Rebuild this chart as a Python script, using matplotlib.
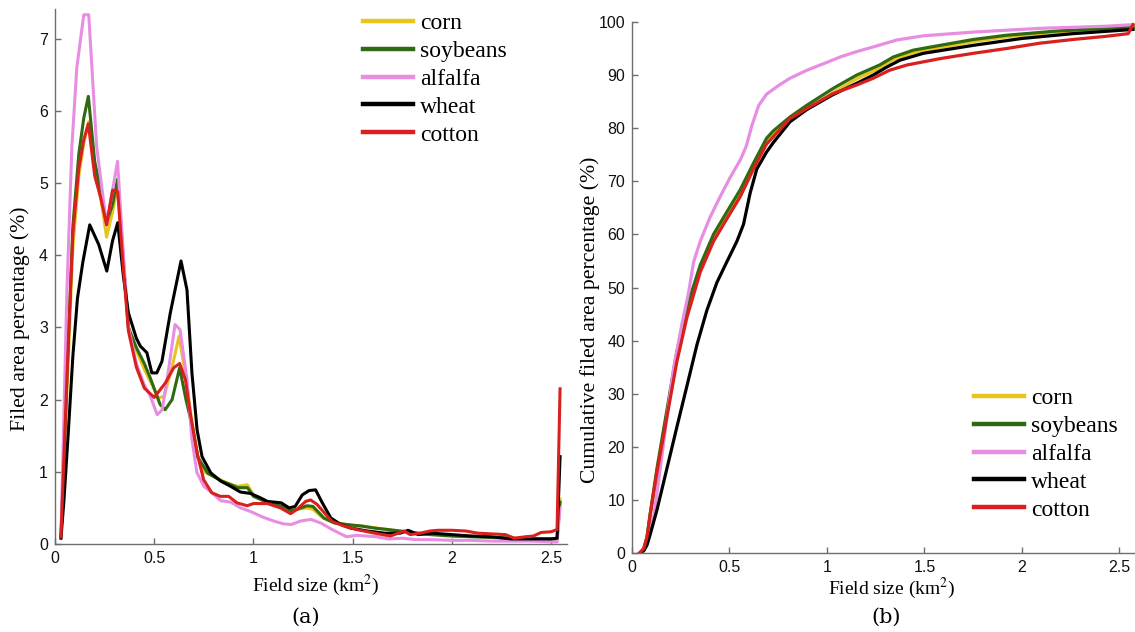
import matplotlib
matplotlib.use("Agg")
import matplotlib.pyplot as plt

# ---------------- data ----------------
crops = ["corn", "soybeans", "alfalfa", "wheat", "cotton"]
colors = ["#E8C41C", "#2F6A12", "#E88EE2", "#000000", "#D8201E"]

# (a) field area percentage
corn_x = [0.03, 0.06, 0.09, 0.12, 0.145, 0.17, 0.2, 0.23, 0.26, 0.29, 0.315, 0.345, 0.37, 0.41, 0.45, 0.49, 0.52,
          0.55, 0.59, 0.625, 0.66, 0.69, 0.72, 0.75, 0.79, 0.84, 0.88, 0.92, 0.97, 1.0, 1.05, 1.1, 1.15, 1.19,
          1.22, 1.27, 1.3, 1.35, 1.4, 1.45, 1.5, 1.55, 1.6, 1.65, 1.7, 1.75, 1.8, 1.85, 1.9, 1.95, 2.0, 2.05,
          2.1, 2.15, 2.2, 2.25, 2.3, 2.35, 2.4, 2.45, 2.5, 2.53, 2.545]
corn_y = [0.1, 2.1, 4.1, 5.1, 5.55, 5.85, 5.2, 4.8, 4.25, 4.6, 4.95, 3.9, 3.0, 2.68, 2.42, 2.2, 2.02,
          2.05, 2.45, 2.88, 2.3, 1.7, 1.2, 1.0, 0.95, 0.88, 0.83, 0.8, 0.82, 0.68, 0.6, 0.56, 0.52, 0.46,
          0.48, 0.5, 0.48, 0.36, 0.3, 0.28, 0.25, 0.25, 0.23, 0.21, 0.19, 0.17, 0.16, 0.14, 0.14, 0.13, 0.12, 0.11,
          0.11, 0.1, 0.09, 0.09, 0.08, 0.08, 0.07, 0.07, 0.07, 0.07, 0.62]

soy_x = [0.03, 0.06, 0.09, 0.12, 0.145, 0.168, 0.2, 0.23, 0.26, 0.29, 0.315, 0.345, 0.37, 0.41, 0.45, 0.48, 0.53,
         0.555, 0.59, 0.628, 0.66, 0.69, 0.72, 0.77, 0.84, 0.88, 0.92, 0.97, 1.0, 1.05, 1.09, 1.15, 1.19, 1.22,
         1.27, 1.3, 1.355, 1.41, 1.47, 1.54, 1.61, 1.68, 1.74, 1.83, 1.89, 2.0, 2.1, 2.2, 2.3, 2.4, 2.5, 2.53, 2.545]
soy_y = [0.1, 2.3, 4.4, 5.4, 5.9, 6.2, 5.3, 4.9, 4.45, 4.7, 5.05, 3.9, 3.0, 2.72, 2.5, 2.3, 1.93,
         1.86, 2.0, 2.44, 2.0, 1.65, 1.2, 0.98, 0.87, 0.83, 0.78, 0.78, 0.66, 0.6, 0.55, 0.52, 0.46, 0.48,
         0.53, 0.52, 0.36, 0.29, 0.27, 0.25, 0.22, 0.2, 0.18, 0.15, 0.13, 0.11, 0.1, 0.09, 0.08, 0.07, 0.07, 0.07, 0.58]

alf_x = [0.03, 0.06, 0.085, 0.11, 0.145, 0.17, 0.21, 0.26, 0.315, 0.345, 0.37, 0.41, 0.45, 0.48, 0.515, 0.54,
         0.565, 0.605, 0.63, 0.665, 0.69, 0.715, 0.75, 0.79, 0.835, 0.885, 0.935, 0.985, 1.05, 1.1, 1.15, 1.19,
         1.24, 1.29, 1.34, 1.39, 1.44, 1.47, 1.52, 1.57, 1.62, 1.68, 1.75, 1.82, 1.9, 2.0, 2.1, 2.2, 2.3, 2.4,
         2.5, 2.53, 2.545]
alf_y = [0.1, 3.5, 5.5, 6.6, 7.33, 7.33, 5.5, 4.42, 5.3, 4.0, 3.0, 2.5, 2.2, 2.05, 1.79, 1.86,
         2.28, 3.04, 2.97, 2.28, 1.45, 0.99, 0.8, 0.71, 0.6, 0.58, 0.5, 0.45, 0.37, 0.32, 0.28, 0.27,
         0.32, 0.34, 0.29, 0.21, 0.14, 0.1, 0.12, 0.11, 0.1, 0.07, 0.08, 0.06, 0.06, 0.05, 0.05, 0.04, 0.04, 0.04,
         0.03, 0.03, 0.5]

wheat_x = [0.03, 0.045, 0.066, 0.09, 0.113, 0.14, 0.175, 0.22, 0.261, 0.29, 0.316, 0.345, 0.37, 0.41, 0.43,
           0.463, 0.488, 0.513, 0.539, 0.581, 0.635, 0.665, 0.69, 0.716, 0.741, 0.785, 0.836, 0.884, 0.934,
           0.985, 1.035, 1.07, 1.14, 1.18, 1.21, 1.246, 1.28, 1.313, 1.347, 1.39, 1.44, 1.49, 1.574, 1.66,
           1.74, 1.78, 1.83, 1.9, 2.0, 2.1, 2.2, 2.3, 2.42, 2.5, 2.53, 2.545]
wheat_y = [0.08, 0.6, 1.5, 2.6, 3.4, 3.9, 4.42, 4.15, 3.78, 4.2, 4.45, 3.7, 3.2, 2.85, 2.74,
           2.65, 2.37, 2.37, 2.53, 3.2, 3.92, 3.52, 2.37, 1.58, 1.21, 0.985, 0.87, 0.8, 0.72,
           0.7, 0.64, 0.59, 0.57, 0.5, 0.52, 0.68, 0.74, 0.75, 0.57, 0.36, 0.27, 0.22, 0.18, 0.15,
           0.15, 0.19, 0.13, 0.15, 0.13, 0.11, 0.1, 0.07, 0.07, 0.07, 0.08, 1.21]

cot_x = [0.03, 0.06, 0.09, 0.12, 0.145, 0.168, 0.2, 0.23, 0.26, 0.29, 0.316, 0.345, 0.37, 0.41, 0.45, 0.5,
         0.556, 0.598, 0.628, 0.657, 0.684, 0.716, 0.749, 0.79, 0.833, 0.875, 0.917, 0.968, 1.0, 1.07, 1.136,
         1.187, 1.22, 1.263, 1.288, 1.32, 1.364, 1.397, 1.456, 1.52, 1.61, 1.69, 1.76, 1.79, 1.84, 1.89, 1.93,
         2.0, 2.07, 2.13, 2.2, 2.27, 2.315, 2.37, 2.41, 2.45, 2.5, 2.53, 2.545]
cot_y = [0.1, 2.3, 4.3, 5.2, 5.6, 5.82, 5.1, 4.8, 4.42, 4.9, 4.88, 3.8, 2.95, 2.45, 2.16, 2.03,
         2.23, 2.44, 2.5, 2.28, 1.77, 1.26, 0.89, 0.71, 0.66, 0.66, 0.57, 0.53, 0.56, 0.56, 0.5,
         0.42, 0.48, 0.59, 0.61, 0.55, 0.41, 0.31, 0.25, 0.2, 0.15, 0.11, 0.18, 0.13, 0.15, 0.18, 0.19,
         0.19, 0.18, 0.15, 0.14, 0.13, 0.08, 0.1, 0.11, 0.16, 0.17, 0.2, 2.15]

# (b) cumulative field area percentage
corn_cx = [0.04, 0.06, 0.077, 0.094, 0.128, 0.179, 0.23, 0.282, 0.35, 0.418, 0.486, 0.555, 0.623, 0.69, 0.725,
           0.81, 0.896, 1.032, 1.152, 1.27, 1.34, 1.443, 1.58, 1.75, 1.92, 2.18, 2.43, 2.57]
corn_cy = [0, 0.8, 2.9, 7.3, 15.5, 26.3, 37.0, 45.6, 53.4, 59.2, 63.5, 67.8, 72.8, 77.5, 78.8,
           81.3, 83.5, 86.7, 89.3, 91.3, 92.9, 94.2, 95.2, 96.3, 97.2, 98.1, 98.7, 99.0]
soy_cx = [0.04, 0.06, 0.077, 0.094, 0.128, 0.179, 0.23, 0.282, 0.35, 0.418, 0.486, 0.555, 0.623, 0.69, 0.725,
          0.81, 0.896, 1.032, 1.152, 1.27, 1.34, 1.443, 1.58, 1.75, 1.92, 2.18, 2.43, 2.57]
soy_cy = [0, 0.8, 3.0, 7.5, 15.9, 26.9, 37.9, 46.4, 54.2, 60.0, 64.2, 68.4, 73.4, 78.1, 79.5,
          82.1, 84.3, 87.5, 90.0, 91.9, 93.4, 94.7, 95.6, 96.7, 97.5, 98.3, 98.8, 99.1]
alf_cx = [0.04, 0.06, 0.08, 0.111, 0.145, 0.179, 0.213, 0.256, 0.29, 0.316, 0.35, 0.40, 0.452, 0.503, 0.555,
          0.585, 0.615, 0.65, 0.69, 0.75, 0.81, 0.896, 1.0, 1.067, 1.15, 1.237, 1.357, 1.494, 1.75, 2.09, 2.43, 2.57]
alf_cy = [0, 0.8, 2.5, 6.8, 15.9, 25.6, 34.7, 43.1, 49.0, 54.8, 58.7, 63.2, 67.1, 70.7, 74.0,
          76.5, 80.5, 84.3, 86.4, 88.0, 89.4, 90.9, 92.4, 93.4, 94.4, 95.3, 96.6, 97.4, 98.1, 98.8, 99.2, 99.5]
wheat_cx = [0.04, 0.06, 0.077, 0.094, 0.128, 0.179, 0.23, 0.282, 0.333, 0.384, 0.435, 0.486, 0.538, 0.572, 0.606,
            0.64, 0.69, 0.725, 0.81, 0.896, 1.03, 1.15, 1.237, 1.306, 1.374, 1.494, 1.75, 2.0, 2.26, 2.57]
wheat_cy = [0, 0.4, 1.5, 3.6, 8.1, 15.9, 23.7, 31.5, 39.2, 45.7, 50.9, 54.8, 58.7, 61.9, 67.8,
            72.3, 75.5, 77.3, 81.2, 83.5, 86.3, 88.4, 90.0, 91.5, 92.8, 94.1, 95.6, 96.9, 97.8, 98.6]
cot_cx = [0.04, 0.06, 0.077, 0.094, 0.128, 0.179, 0.23, 0.282, 0.35, 0.418, 0.486, 0.555, 0.623, 0.69, 0.725,
          0.81, 0.896, 1.03, 1.15, 1.237, 1.32, 1.41, 1.58, 1.75, 1.92, 2.09, 2.26, 2.43, 2.545, 2.57]
cot_cy = [0, 0.8, 3.0, 7.5, 15.2, 25.6, 36.0, 44.4, 52.9, 58.7, 62.9, 67.1, 72.3, 77.0, 78.4,
          81.8, 83.7, 86.5, 88.1, 89.4, 90.9, 91.9, 93.1, 94.1, 95.0, 96.0, 96.7, 97.3, 97.8, 99.5]

xticks = [0, 0.5, 1, 1.5, 2, 2.5]
xtick_labels = ["0", "0.5", "1", "1.5", "2", "2.5"]
yticks_a = [0, 1, 2, 3, 4, 5, 6, 7]
yticks_b = [0, 10, 20, 30, 40, 50, 60, 70, 80, 90, 100]

series_a = [(corn_x, corn_y), (soy_x, soy_y), (alf_x, alf_y), (wheat_x, wheat_y), (cot_x, cot_y)]
series_b = [(corn_cx, corn_cy), (soy_cx, soy_cy), (alf_cx, alf_cy), (wheat_cx, wheat_cy), (cot_cx, cot_cy)]

# ---------------- figure ----------------
plt.rcParams["mathtext.fontset"] = "stix"
W, H = 1135, 632
fig = plt.figure(figsize=(W / 100, H / 100), dpi=100)

def frac(l, t, r, b):
    return [l / W, 1 - b / H, (r - l) / W, (b - t) / H]

axA = fig.add_axes(frac(55, 9, 567, 544))
axB = fig.add_axes(frac(632, 22, 1135, 553))

serif = "Liberation Serif"
sans = "Liberation Sans"
axis_col = "#6e6e6e"

for ax, series, lw in ((axA, series_a, 2.2), (axB, series_b, 2.3)):
    for (xs, ys), name, c in zip(series, crops, colors):
        ax.plot(xs, ys, color=c, lw=lw, label=name, solid_joinstyle="round")
    ax.set_xlim(0, 2.58)
    ax.set_xticks(xticks)
    ax.set_xticklabels(xtick_labels)
    for s in ("top", "right"):
        ax.spines[s].set_visible(False)
    for s in ("left", "bottom"):
        ax.spines[s].set_color(axis_col)
        ax.spines[s].set_linewidth(1.0)
    ax.tick_params(direction="in", length=4, width=1.0, color=axis_col, labelsize=11.5, pad=5)
    for lab in ax.get_xticklabels() + ax.get_yticklabels():
        lab.set_family(sans)
        lab.set_color("#111111")

axA.set_ylim(0, 7.41)
axA.set_yticks(yticks_a)
axB.set_ylim(0, 100)
axB.set_yticks(yticks_b)

leg_kw = dict(frameon=False, prop={"family": serif, "size": 17}, handlelength=2.1,
              handletextpad=0.3, labelspacing=0.27, borderpad=0, borderaxespad=0)
legA = axA.legend(loc="upper left", bbox_to_anchor=(363 / W, 1 - 12.5 / H), bbox_transform=fig.transFigure, **leg_kw)
legB = axB.legend(loc="upper left", bbox_to_anchor=(974 / W, 1 - 387.5 / H), bbox_transform=fig.transFigure, **leg_kw)
for leg in (legA, legB):
    for h in leg.get_lines():
        h.set_linewidth(3.2)

fig.text(316 / W, 1 - 585 / H, "Field size (km$^2$)", family=serif, fontsize=14, ha="center", va="center")
fig.text(892 / W, 1 - 588 / H, "Field size (km$^2$)", family=serif, fontsize=14, ha="center", va="center")
fig.text(20 / W, 1 - 319 / H, "Filed area percentage (%)", family=serif, fontsize=15.7,
         rotation=90, ha="center", va="center")
fig.text(590 / W, 1 - 320 / H, "Cumulative filed area percentage (%)", family=serif, fontsize=15.7,
         rotation=90, ha="center", va="center")
fig.text(306 / W, 1 - 617 / H, "(a)", family="DejaVu Serif", fontsize=15, ha="center", va="center")
fig.text(886 / W, 1 - 617 / H, "(b)", family="DejaVu Serif", fontsize=15, ha="center", va="center")

fig.savefig("out.png", dpi=100)
